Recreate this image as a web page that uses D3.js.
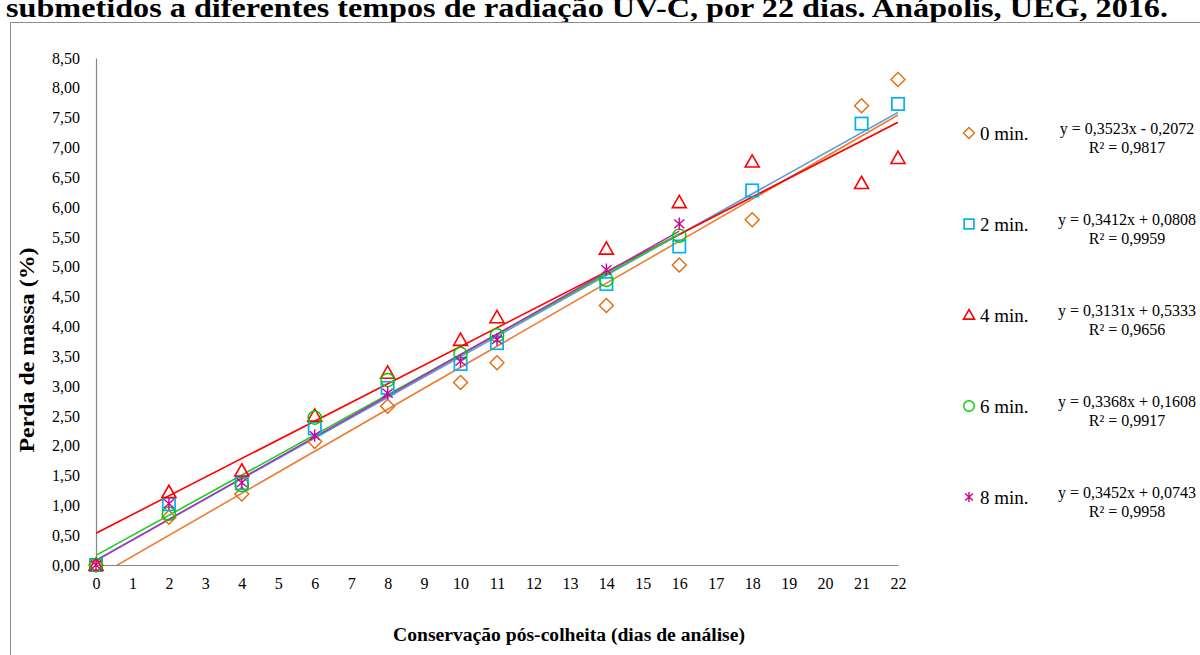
<!DOCTYPE html>
<html><head><meta charset="utf-8">
<script src="https://cdn.jsdelivr.net/npm/d3@7"></script>
<style>
body{margin:0;background:#fff;overflow:hidden}
svg{display:block}
text{font-family:"Liberation Serif","Times New Roman",serif;fill:#000}
</style>
</head><body>
<svg id="c" width="1200" height="655"></svg>
<script>
// ---- data ----
const days = [0, 2, 4, 6, 8, 10, 11, 14, 16, 18, 21, 22];
const seriesNames = ["0 min.", "2 min.", "4 min.", "6 min.", "8 min."];
const min0 = [0, 0.80, 1.19, 2.07, 2.66, 3.06, 3.39, 4.35, 5.03, 5.79, 7.70, 8.14];
const min2 = [0, 1.02, 1.37, 2.29, 2.97, 3.37, 3.72, 4.71, 5.34, 6.28, 7.40, 7.73];
const min4 = [0, 1.22, 1.58, 2.50, 3.22, 3.77, 4.15, 5.30, 6.08, 6.76, 6.40, 6.82];
const min6 = [0, 0.86, 1.34, 2.47, 3.10, 3.54, 3.85, 4.78, 5.52];
const min8 = [0, 1.03, 1.38, 2.17, 2.88, 3.42, 3.78, 4.95, 5.72];
const slopes = [0.3523, 0.3412, 0.3131, 0.3368, 0.3452];
const intercepts = [-0.2072, 0.0808, 0.5333, 0.1608, 0.0743];
const r2 = [0.9817, 0.9959, 0.9656, 0.9917, 0.9958];
const yTicks = [0, 0.5, 1, 1.5, 2, 2.5, 3, 3.5, 4, 4.5, 5, 5.5, 6, 6.5, 7, 7.5, 8, 8.5];
const xTicks = [0,1,2,3,4,5,6,7,8,9,10,11,12,13,14,15,16,17,18,19,20,21,22];
const titleText = "submetidos a diferentes tempos de radiação UV-C, por 22 dias. Anápolis, UEG, 2016.";
const yTitle = "Perda de massa (%)";
const xTitle = "Conservação pós-colheita (dias de análise)";

// ---- styles ----
const markerColors = ["#E36C0A", "#00B0F0", "#FF0000", "#00CC00", "#CC0099"];
const lineColors = ["#ED7D31", "#5B9BD5", "#FF0000", "#22CC22", "#A832B8"];
const shapes = ["diamond", "square", "triangle", "circle", "star"];
const allSeries = [min0, min2, min4, min6, min8];
const serif = "Liberation Serif, Times New Roman, serif";

const svg = d3.select("#c");
const x = d3.scaleLinear().domain([0, 22]).range([96, 898]);
const y = d3.scaleLinear().domain([0, 8.5]).range([565, 58]);
const fmt = v => d3.format(".2f")(v).replace(".", ",");
const fmt4 = v => d3.format(".4f")(Math.abs(v)).replace(".", ",");

// title (cut at top in the reference)
svg.append("text").attr("x", 6).attr("y", 17)
  .attr("font-size", 27).attr("font-weight", "bold")
  .attr("textLength", 1162).attr("lengthAdjust", "spacingAndGlyphs")
  .text(titleText);

// outer frame
svg.append("rect").attr("x", 10.5).attr("y", 22.5).attr("width", 1200).attr("height", 700)
  .attr("fill", "none").attr("stroke", "#8c8c8c").attr("stroke-width", 1);

// axes
const gx = svg.append("g").attr("transform", `translate(0,${y(0)})`)
  .call(d3.axisBottom(x).tickValues(xTicks).tickSize(0).tickPadding(13).tickFormat(d3.format("d")));
const gy = svg.append("g").attr("transform", `translate(${x(0)},0)`)
  .call(d3.axisLeft(y).tickValues(yTicks).tickSize(0).tickPadding(16).tickFormat(fmt));
[gx, gy].forEach(g => {
  g.attr("font-family", serif).attr("font-size", 16);
  g.select(".domain").attr("stroke", "#868686").attr("stroke-width", 1.2);
  g.selectAll("text").attr("font-family", serif).attr("font-size", 16).attr("fill", "#000");
});

// axis titles
svg.append("text").attr("x", 569).attr("y", 641).attr("text-anchor", "middle")
  .attr("font-size", 18).attr("font-weight", "bold")
  .attr("textLength", 352).attr("lengthAdjust", "spacingAndGlyphs").text(xTitle);
svg.append("text").attr("transform", "translate(34,350) rotate(-90)").attr("text-anchor", "middle")
  .attr("font-size", 20).attr("font-weight", "bold")
  .attr("textLength", 205).attr("lengthAdjust", "spacingAndGlyphs").text(yTitle);

// clip for trendlines
svg.append("clipPath").attr("id", "plotclip").append("rect")
  .attr("x", x(0)).attr("y", y(8.5)).attr("width", x(22) - x(0)).attr("height", y(0) - y(8.5));

// marker drawing
function marker(g, shape, cx, cy, color, s) {
  const sw = 1.4;
  if (shape === "diamond") {
    g.append("path").attr("d", `M${cx},${cy - s}L${cx + s},${cy}L${cx},${cy + s}L${cx - s},${cy}Z`)
      .attr("fill", "none").attr("stroke", color).attr("stroke-width", sw);
  } else if (shape === "square") {
    g.append("rect").attr("x", cx - s * 0.88).attr("y", cy - s * 0.88).attr("width", s * 1.76).attr("height", s * 1.76)
      .attr("fill", "none").attr("stroke", color).attr("stroke-width", sw + 0.3);
  } else if (shape === "triangle") {
    g.append("path").attr("d", `M${cx},${cy - s}L${cx + s},${cy + s * 0.75}L${cx - s},${cy + s * 0.75}Z`)
      .attr("fill", "none").attr("stroke", color).attr("stroke-width", sw + 0.2);
  } else if (shape === "circle") {
    g.append("circle").attr("cx", cx).attr("cy", cy).attr("r", s * 0.95)
      .attr("fill", "none").attr("stroke", color).attr("stroke-width", sw);
  } else {
    const r = s * 0.9;
    g.append("path").attr("d",
      `M${cx},${cy - r}L${cx},${cy + r}` +
      `M${cx - r * 0.8},${cy - r * 0.7}L${cx + r * 0.8},${cy + r * 0.7}` +
      `M${cx - r * 0.8},${cy + r * 0.7}L${cx + r * 0.8},${cy - r * 0.7}`)
      .attr("fill", "none").attr("stroke", color).attr("stroke-width", sw);
  }
}

// trendlines
const tl = svg.append("g").attr("clip-path", "url(#plotclip)");
allSeries.forEach((vals, i) => {
  const xs = days.slice(0, vals.length);
  const x0 = 0, x1 = d3.max(xs);
  tl.append("line")
    .attr("x1", x(x0)).attr("y1", y(slopes[i] * x0 + intercepts[i]))
    .attr("x2", x(x1)).attr("y2", y(slopes[i] * x1 + intercepts[i]))
    .attr("stroke", lineColors[i]).attr("stroke-width", 1.6);
});

// markers
allSeries.forEach((vals, i) => {
  const g = svg.append("g");
  vals.forEach((v, j) => marker(g, shapes[i], x(days[j]), y(v), markerColors[i], 7));
});

// legend and equations
seriesNames.forEach((name, i) => {
  const ly = 133 + i * 91;
  const g = svg.append("g");
  marker(g, shapes[i], 969, ly, markerColors[i], 5.5);
  g.append("text").attr("x", 980).attr("y", ly + 7).attr("font-size", 19).text(name);
  const eq = `y = ${fmt4(slopes[i])}x ${intercepts[i] < 0 ? "-" : "+"} ${fmt4(intercepts[i])}`;
  g.append("text").attr("x", 1127).attr("y", ly + 1).attr("text-anchor", "middle").attr("font-size", 16).text(eq);
  g.append("text").attr("x", 1127).attr("y", ly + 20).attr("text-anchor", "middle").attr("font-size", 16)
    .text(`R² = ${fmt4(r2[i])}`);
});
</script>
</body></html>
